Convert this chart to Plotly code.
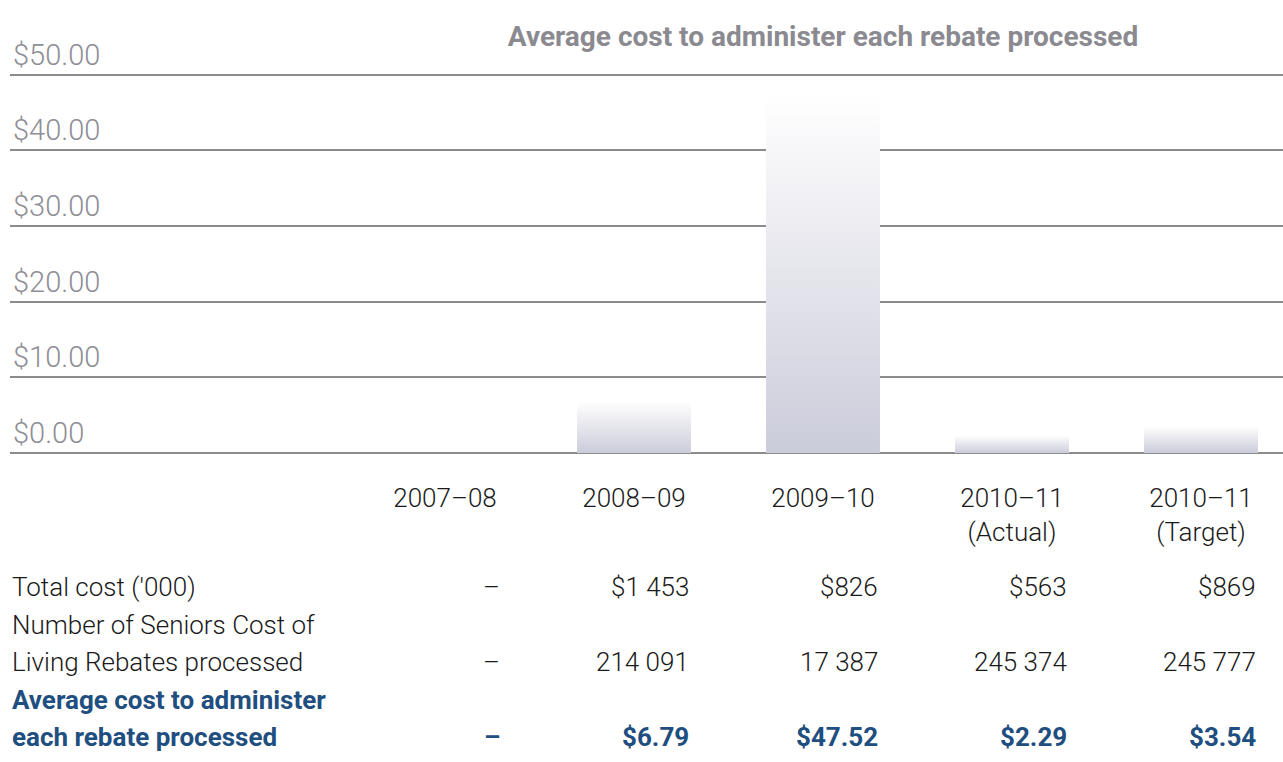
import plotly.graph_objects as go

# ---- data ----
categories = ["2007–08", "2008–09", "2009–10", "2010–11<br>(Actual)", "2010–11<br>(Target)"]
avg_cost = [None, 6.79, 47.52, 2.29, 3.54]
total_cost_labels = ["–", "$1 453", "$826", "$563", "$869"]
rebates_labels = ["–", "214 091", "17 387", "245 374", "245 777"]
avg_cost_labels = ["–" if v is None else f"${v:.2f}" for v in avg_cost]
y_ticks = [0, 10, 20, 30, 40, 50]
y_tick_labels = [f"${v:.2f}" for v in y_ticks]
title_text = "Average cost to administer each rebate processed"

# ---- layout constants ----
W, H = 1283, 762
left, bottom_px = 10, 453
px_per_unit = (453 - 75) / 50
y_max = 55
top = bottom_px - y_max * px_per_unit
bar_w = 0.603
FONT = "Roboto"
GRID = "#8c8c8c"
LAV = "#cbccda"
BLUE = "#1f4e80"

xs = list(range(len(categories)))
fig = go.Figure()

for i, v in zip(xs, avg_cost):
    if v is None:
        continue
    fig.add_trace(go.Scatter(
        x=[i - bar_w / 2, i + bar_w / 2, i + bar_w / 2, i - bar_w / 2, i - bar_w / 2],
        y=[0, 0, v, v, 0],
        mode="lines", line=dict(width=0), fill="toself",
        fillgradient=dict(type="vertical", colorscale=[[0, LAV], [1, "#ffffff"]]),
        hoverinfo="skip", showlegend=False,
    ))

plot_h = bottom_px - top


def py(p):
    return (bottom_px - p) / plot_h


ann = []
rows = [
    ("Total cost ('000)", 587, total_cost_labels, False),
    ("Number of Seniors Cost of", 625, None, False),
    ("Living Rebates processed", 662, rebates_labels, False),
    ("Average cost to administer", 700, None, True),
    ("each rebate processed", 737, avg_cost_labels, True),
]
for label, ypx, vals, bold in rows:
    f = dict(family=FONT, size=26, color=BLUE if bold else "#1a1a1a",
             weight=700 if bold else 300)
    ann.append(dict(x=0, xref="paper", y=py(ypx), yref="paper", text=label,
                    xanchor="left", yanchor="middle", showarrow=False, font=f))
    if vals:
        for i, t in zip(xs, vals):
            ann.append(dict(x=i + bar_w / 2, xref="x", y=py(ypx), yref="paper", text=t,
                            xanchor="right", yanchor="middle", showarrow=False, font=f))

fig.update_layout(
    width=W, height=H,
    margin=dict(l=left, r=0, t=top, b=H - bottom_px, pad=0),
    paper_bgcolor="white", plot_bgcolor="white",
    title=dict(text=title_text, x=(823 - left) / (W - left), xref="paper",
               xanchor="center", y=1 - 36 / H, yanchor="middle",
               font=dict(family=FONT, size=28, color="#8a8a90", weight=700)),
    xaxis=dict(range=[(left - 445) / 189, (W - 445) / 189],
               tickmode="array", tickvals=xs, ticktext=categories,
               showgrid=False, zeroline=False, showline=False,
               ticks="outside", ticklen=22, tickcolor="rgba(0,0,0,0)",
               tickfont=dict(family=FONT, size=26, color="#1a1a1a", weight=300)),
    yaxis=dict(range=[0, y_max], tickmode="array", tickvals=y_ticks, ticktext=y_tick_labels,
               ticklabelposition="inside top", showgrid=True, gridcolor=GRID, gridwidth=2,
               zeroline=True, zerolinecolor=GRID, zerolinewidth=2, showline=False,
               tickfont=dict(family=FONT, size=29, color="#8e8e96", weight=300)),
    annotations=ann,
    showlegend=False,
)

fig.write_html("out.html")
